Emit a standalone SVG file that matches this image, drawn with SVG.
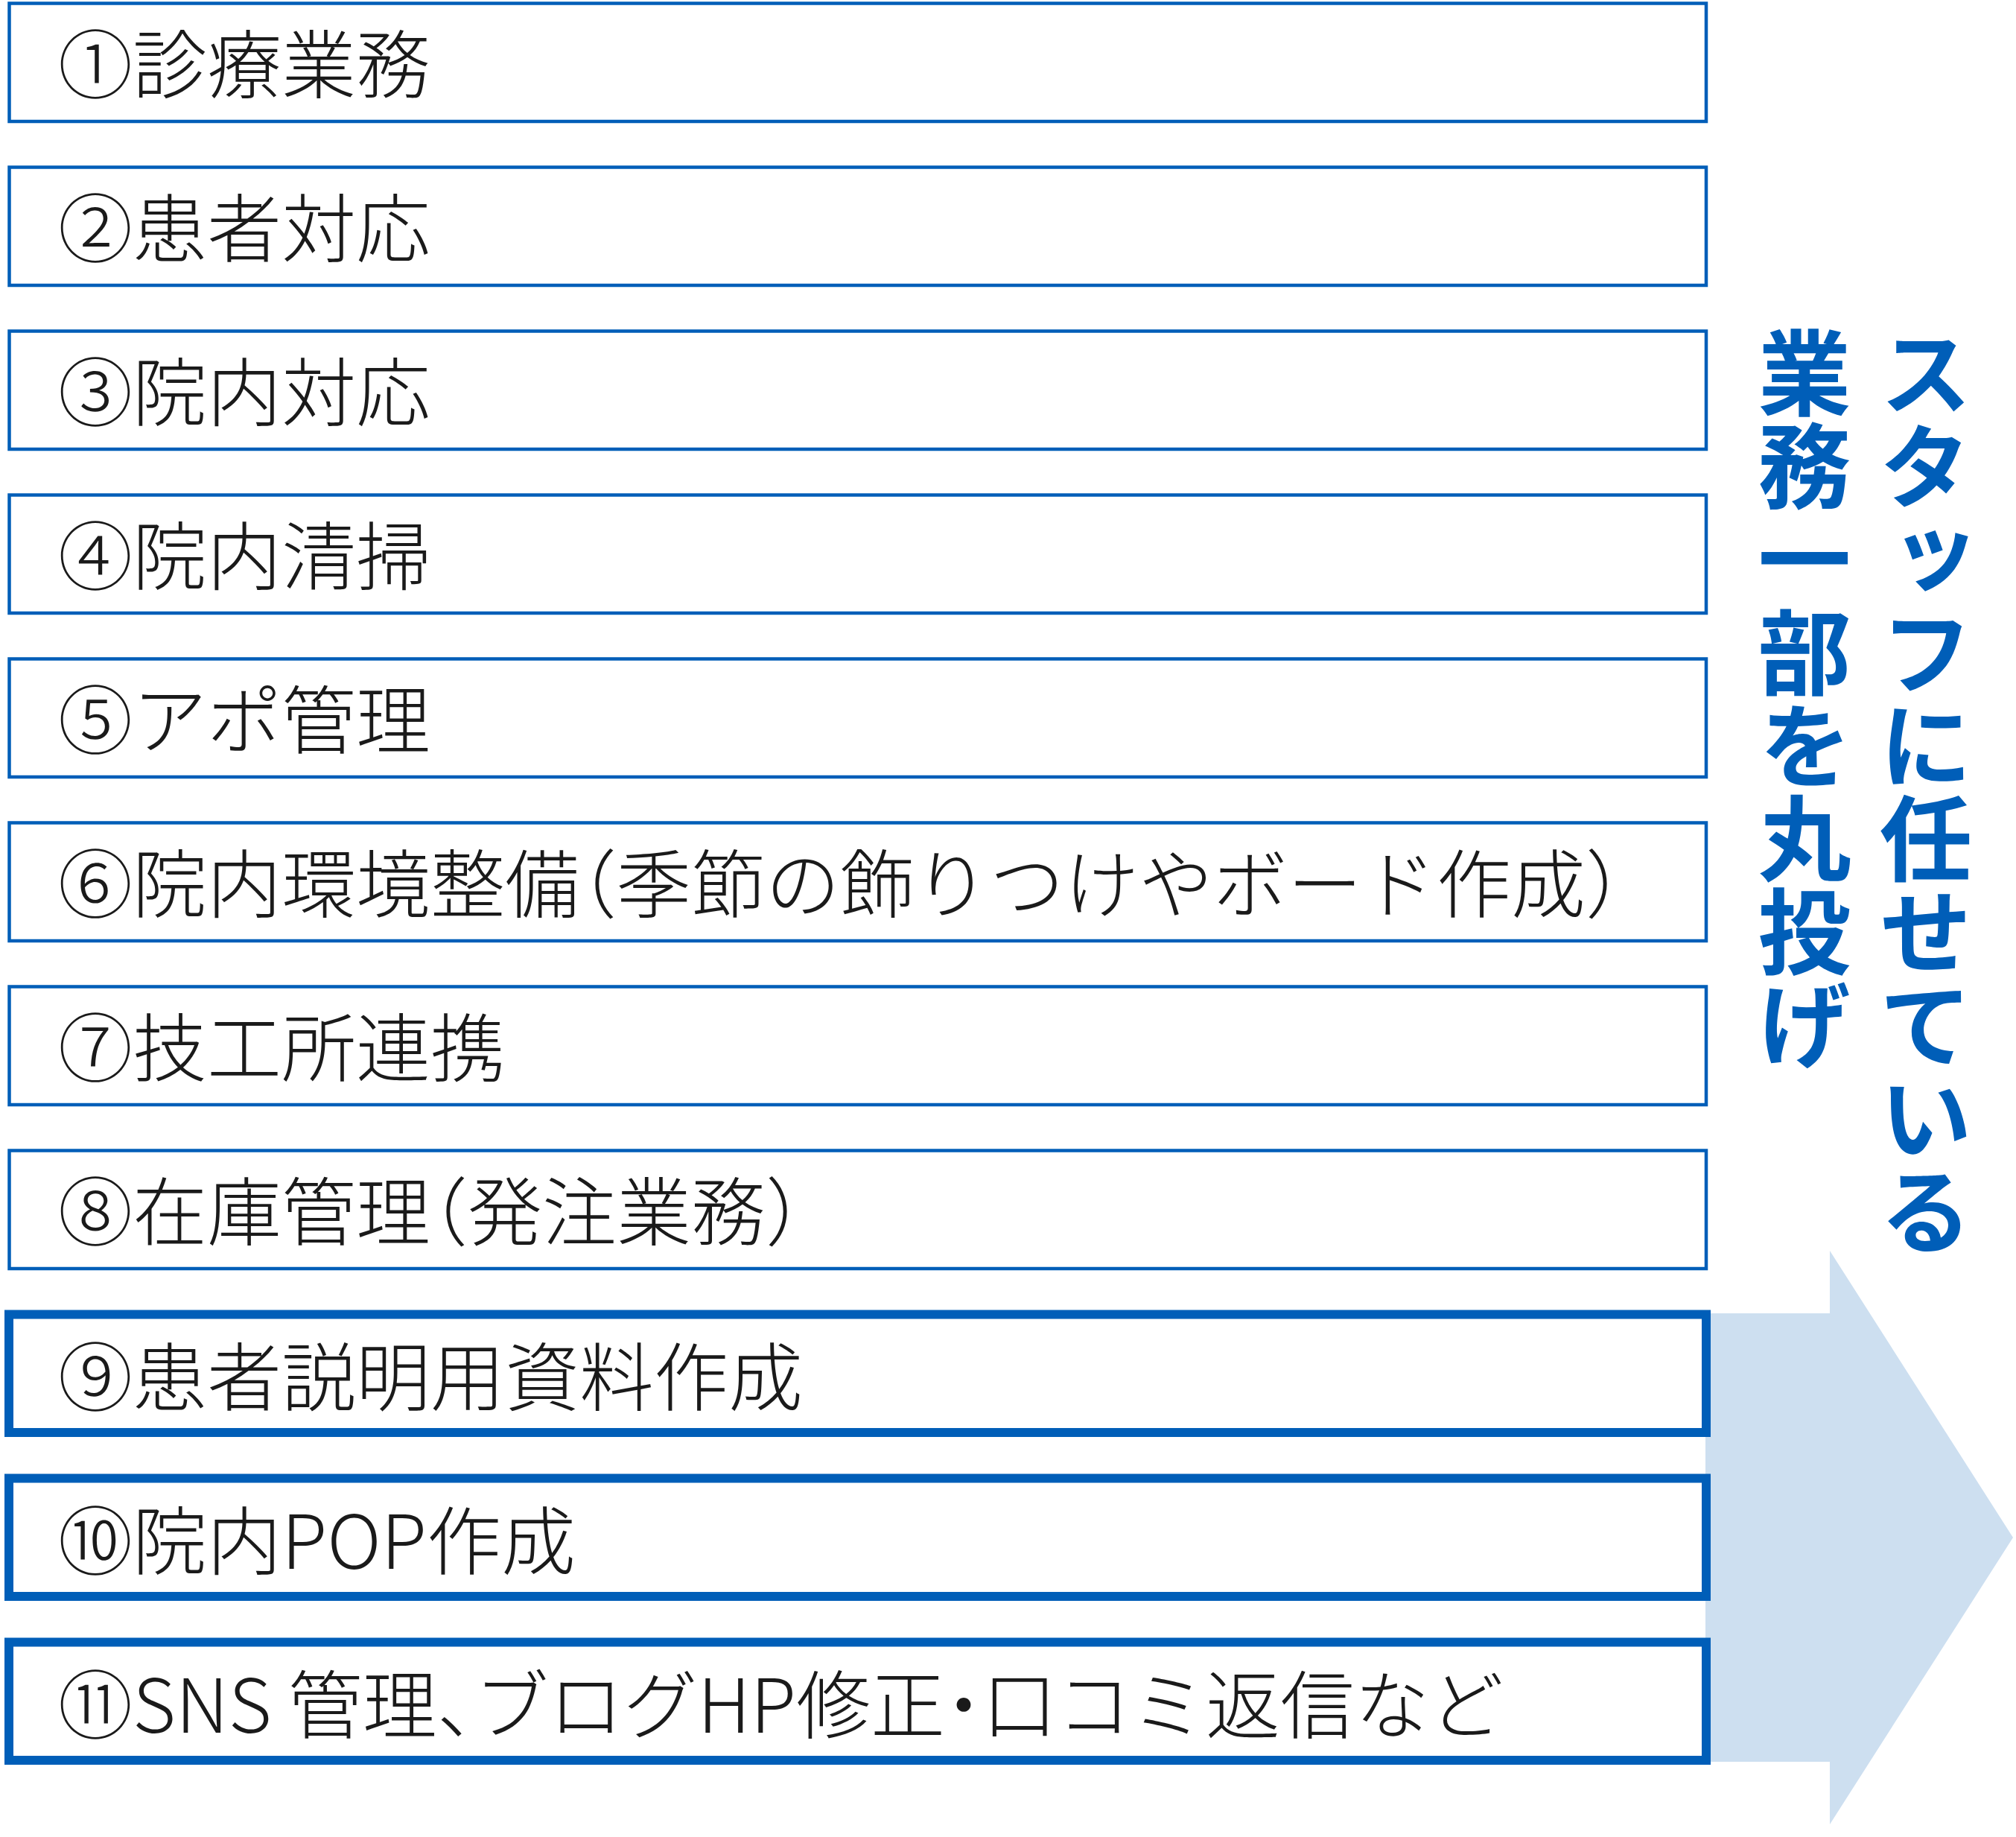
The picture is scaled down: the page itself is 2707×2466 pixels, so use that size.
<svg xmlns="http://www.w3.org/2000/svg" width="2707" height="2466" viewBox="0 0 2707 2466">
<style>
.thin{fill:#ffffff;stroke:#005eb8;stroke-width:4.5}
.thick{fill:#ffffff;stroke:#005eb8;stroke-width:12}
.lbl{font-family:"Noto Sans CJK JP","Noto Sans",sans-serif;font-size:100px;font-weight:300;fill:#1a1a1a}
.h{font-feature-settings:"halt" 1}
.vt{font-family:"Noto Sans CJK JP","Noto Sans",sans-serif;font-size:125px;font-weight:700;fill:#005eb8;writing-mode:vertical-rl}
</style>
<rect width="2707" height="2466" fill="#ffffff"/>
<g id="connectors">
<polygon id="arrow" points="2290,1763 2457,1763 2457,1679 2703,2064 2457,2449 2457,2365 2290,2365" fill="#cddff0"/>
</g>
<g id="n1"><rect class="thin" x="12.5" y="4.5" width="2278.5" height="158.5"/><text class="lbl" x="78" y="124">①診療業務</text></g>
<g id="n2"><rect class="thin" x="12.5" y="224.5" width="2278.5" height="158.5"/><text class="lbl" x="78" y="344">②患者対応</text></g>
<g id="n3"><rect class="thin" x="12.5" y="444.5" width="2278.5" height="158.5"/><text class="lbl" x="78" y="564">③院内対応</text></g>
<g id="n4"><rect class="thin" x="12.5" y="664.5" width="2278.5" height="158.5"/><text class="lbl" x="78" y="784">④院内清掃</text></g>
<g id="n5"><rect class="thin" x="12.5" y="884.5" width="2278.5" height="158.5"/><text class="lbl" x="78" y="1004">⑤アポ管理</text></g>
<g id="n6"><rect class="thin" x="12.5" y="1104.5" width="2278.5" height="158.5"/><text class="lbl" x="78" y="1224">⑥院内環境整備<tspan class="h">（</tspan>季節の飾りつけやボード作成）</text></g>
<g id="n7"><rect class="thin" x="12.5" y="1324.5" width="2278.5" height="158.5"/><text class="lbl" x="78" y="1444">⑦技工所連携</text></g>
<g id="n8"><rect class="thin" x="12.5" y="1544.5" width="2278.5" height="158.5"/><text class="lbl" x="78" y="1664">⑧在庫管理<tspan class="h">（</tspan>発注業務）</text></g>
<g id="n9"><rect class="thick" x="12" y="1764.5" width="2279" height="158.5"/><text class="lbl" x="78" y="1886">⑨患者説明用資料作成</text></g>
<g id="n10"><rect class="thick" x="12" y="1984.5" width="2279" height="158.5"/><text class="lbl" x="78" y="2106">⑩院内POP作成</text></g>
<g id="n11"><rect class="thick" x="12" y="2204.5" width="2279" height="158.5"/><text class="lbl" x="78" y="2326">⑪SNS 管理<tspan class="h">、</tspan>ブログHP修正<tspan class="h">・</tspan>口コミ返信など</text></g>
<g id="caption">
<text class="vt" x="2586" y="438">スタッフに任せている</text>
<text class="vt" x="2423" y="438">業務一部を丸投げ</text>
</g>
</svg>
